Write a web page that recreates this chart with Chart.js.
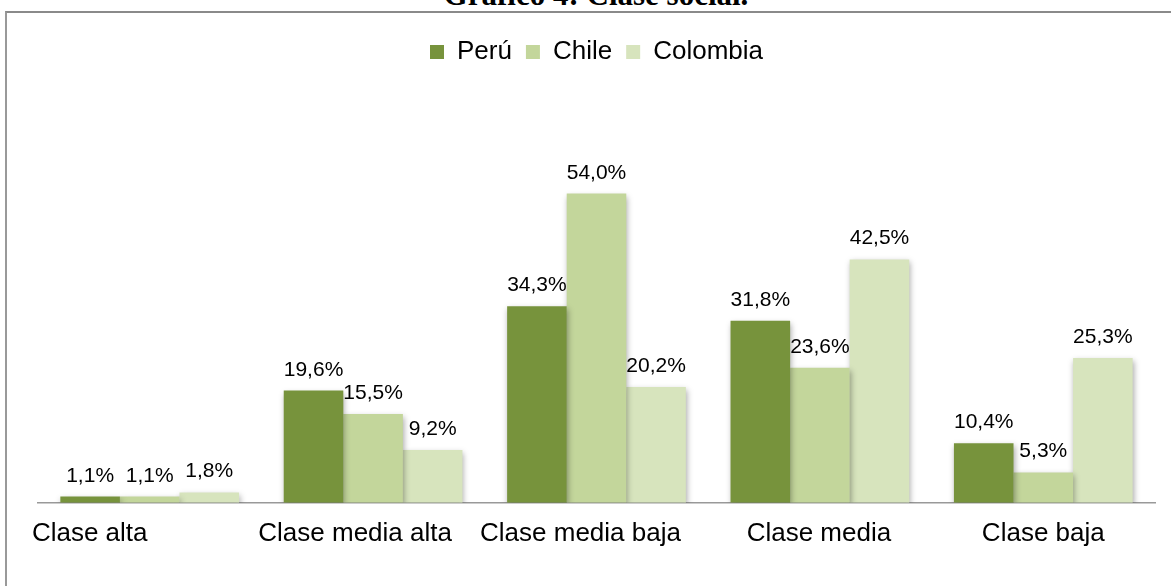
<!DOCTYPE html>
<html>
<head>
<meta charset="utf-8">
<script src="https://cdn.jsdelivr.net/npm/chart.js@4/dist/chart.umd.min.js"></script>
<style>
  html,body{margin:0;padding:0;background:#fff;width:1171px;height:586px;overflow:hidden;}
  #title{position:absolute;left:0;width:1192px;top:-21px;text-align:center;font-family:"Liberation Serif","DejaVu Serif",serif;font-weight:bold;font-size:31px;line-height:31px;color:#000;}
  #frame{position:absolute;left:5px;top:11px;width:1166px;height:580px;border-left:2px solid #999;border-top:2px solid #8a8a8a;box-sizing:border-box;}
  #wrap{position:absolute;left:7px;top:13px;width:1164px;height:573px;}
</style>
</head>
<body>
<div id="title">Gráfico 4: Clase social.</div>
<div id="frame"></div>
<div id="wrap"><canvas id="c" width="1164" height="573"></canvas></div>
<script>
const categories = ["Clase alta", "Clase media alta", "Clase media baja", "Clase media", "Clase baja"];
const peru = [1.1, 19.6, 34.3, 31.8, 10.4];
const chile = [1.1, 15.5, 54.0, 23.6, 5.3];
const colombia = [1.8, 9.2, 20.2, 42.5, 25.3];
const seriesNames = ["Perú", "Chile", "Colombia"];
const seriesColors = ["#77933C", "#C3D69B", "#D7E4BD"];

const FONT = '"Liberation Sans", Arial, sans-serif';

const shadowPlugin = {
  id: 'shadow',
  beforeDatasetsDraw(chart) {
    const ctx = chart.ctx;
    ctx.save();
    ctx.shadowColor = 'rgba(0,0,0,0.35)';
    ctx.shadowBlur = 6;
    ctx.shadowOffsetX = 1;
    ctx.shadowOffsetY = 3;
  },
  afterDatasetsDraw(chart) {
    chart.ctx.restore();
  }
};

const labelPlugin = {
  id: 'valueLabels',
  afterDraw(chart) {
    const ctx = chart.ctx;
    ctx.save();
    ctx.font = '21px ' + FONT;
    ctx.fillStyle = '#000';
    ctx.textAlign = 'center';
    ctx.textBaseline = 'alphabetic';
    chart.data.datasets.forEach((ds, i) => {
      const meta = chart.getDatasetMeta(i);
      meta.data.forEach((bar, j) => {
        const v = ds.data[j];
        const txt = v.toFixed(1).replace('.', ',') + '%';
        ctx.fillText(txt, bar.x, bar.y - 15);
      });
    });
    ctx.restore();
  }
};

// category labels drawn at the scale's tick positions, nudged like the original layout
const catLabelPlugin = {
  id: 'catLabels',
  afterDraw(chart) {
    const xs = chart.scales.x;
    const nudge = [-60, -18, -16, -1, 0];
    const ctx = chart.ctx;
    ctx.save();
    ctx.font = '26px ' + FONT;
    ctx.fillStyle = '#000';
    ctx.textAlign = 'center';
    ctx.textBaseline = 'middle';
    chart.data.labels.forEach((lab, i) => {
      ctx.fillText(lab, xs.getPixelForTick(i) + (nudge[i] || 0), xs.top + 31);
    });
    ctx.restore();
  }
};

new Chart(document.getElementById('c'), {
  type: 'bar',
  data: {
    labels: categories,
    datasets: [
      { label: seriesNames[0], data: peru, backgroundColor: seriesColors[0] },
      { label: seriesNames[1], data: chile, backgroundColor: seriesColors[1] },
      { label: seriesNames[2], data: colombia, backgroundColor: seriesColors[2] }
    ]
  },
  options: {
    responsive: false,
    animation: false,
    events: [],
    layout: { padding: { left: 31, right: 16, top: 12, bottom: 22 } },
    datasets: { bar: { categoryPercentage: 0.8, barPercentage: 1.0 } },
    plugins: {
      legend: {
        display: true,
        position: 'top',
        labels: {
          boxWidth: 14,
          boxHeight: 14,
          padding: 14,
          color: '#000',
          font: { family: FONT, size: 26 }
        }
      },
      tooltip: { enabled: false },
      title: { display: false }
    },
    scales: {
      x: {
        grid: { display: false, drawTicks: false },
        border: { display: true, color: '#999', width: 1.5 },
        ticks: {
          padding: 15,
          color: 'rgba(0,0,0,0)',
          font: { family: FONT, size: 26 }
        }
      },
      y: {
        display: false,
        min: 0,
        max: 74.7
      }
    }
  },
  plugins: [shadowPlugin, labelPlugin, catLabelPlugin]
});
</script>
</body>
</html>
